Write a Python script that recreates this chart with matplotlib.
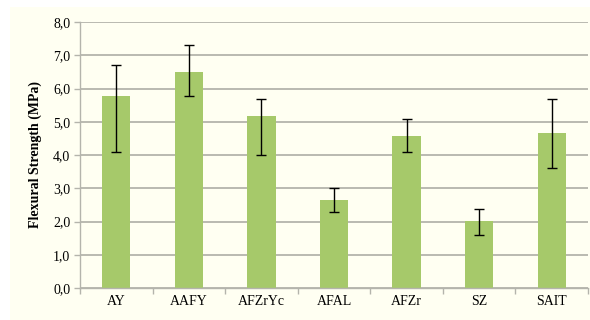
import numpy as np
import matplotlib
matplotlib.use('Agg')
import matplotlib.pyplot as plt
from matplotlib.patches import Rectangle
from matplotlib.ticker import FixedLocator, FuncFormatter

plt.rcParams['font.family'] = ['Liberation Serif', 'DejaVu Serif']

samples = ['AY', 'AAFY', 'AFZrYc', 'AFAL', 'AFZr', 'SZ', 'SAIT']
strength = [5.77, 6.49, 5.16, 2.65, 4.57, 2.02, 4.67]
err_low = [1.67, 0.71, 1.16, 0.36, 0.47, 0.44, 1.07]
err_high = [0.94, 0.82, 0.52, 0.35, 0.52, 0.36, 1.01]

bar_color = '#a6c96a'
grid_color = '#b4b4ac'

fig = plt.figure(figsize=(5.9, 3.2), dpi=100)
fig.patch.set_facecolor('white')
# cream chart area, kept behind the axes
fig.patches.append(Rectangle((10 / 590, 0), 1 - 10 / 590, 1 - 7 / 320,
                             transform=fig.transFigure, facecolor='#fffff2',
                             edgecolor='none', zorder=-10))

ax = fig.add_axes([80 / 590, 1 - 288 / 320, 508 / 590, 266 / 320])
ax.set_facecolor('none')

x = np.arange(len(samples))
ax.bar(x, strength, width=0.39, color=bar_color, zorder=2)
ax.errorbar(x, strength, yerr=[err_low, err_high], fmt='none', ecolor='black',
            elinewidth=1, capsize=3.5, capthick=1, zorder=3)

ax.set_xlim(-0.5, len(samples) - 0.5)
ax.set_ylim(0, 8)
ax.set_yticks(np.arange(0, 9, 1))
ax.yaxis.set_major_formatter(FuncFormatter(lambda v, p: f'{v:.1f}'.replace('.', ',')))
ax.grid(axis='y', color=grid_color, linewidth=1.3, zorder=1)

ax.set_xticks(x)
ax.set_xticklabels(samples)
ax.xaxis.set_minor_locator(FixedLocator(np.arange(-0.5, len(samples), 1)))
ax.tick_params(axis='x', which='major', length=0, pad=5, labelsize=10)
ax.tick_params(axis='x', which='minor', length=4, color=grid_color, width=1)
ax.tick_params(axis='y', length=4, color=grid_color, width=1, labelsize=10, pad=3)

for s in ['top', 'right']:
    ax.spines[s].set_visible(False)
for s in ['left', 'bottom']:
    ax.spines[s].set_color(grid_color)
    ax.spines[s].set_linewidth(1)

ax.set_ylabel('Flexural Strength (MPa)', fontweight='bold', fontsize=10, labelpad=8)

fig.savefig('out.png', dpi=100, facecolor=fig.get_facecolor())
